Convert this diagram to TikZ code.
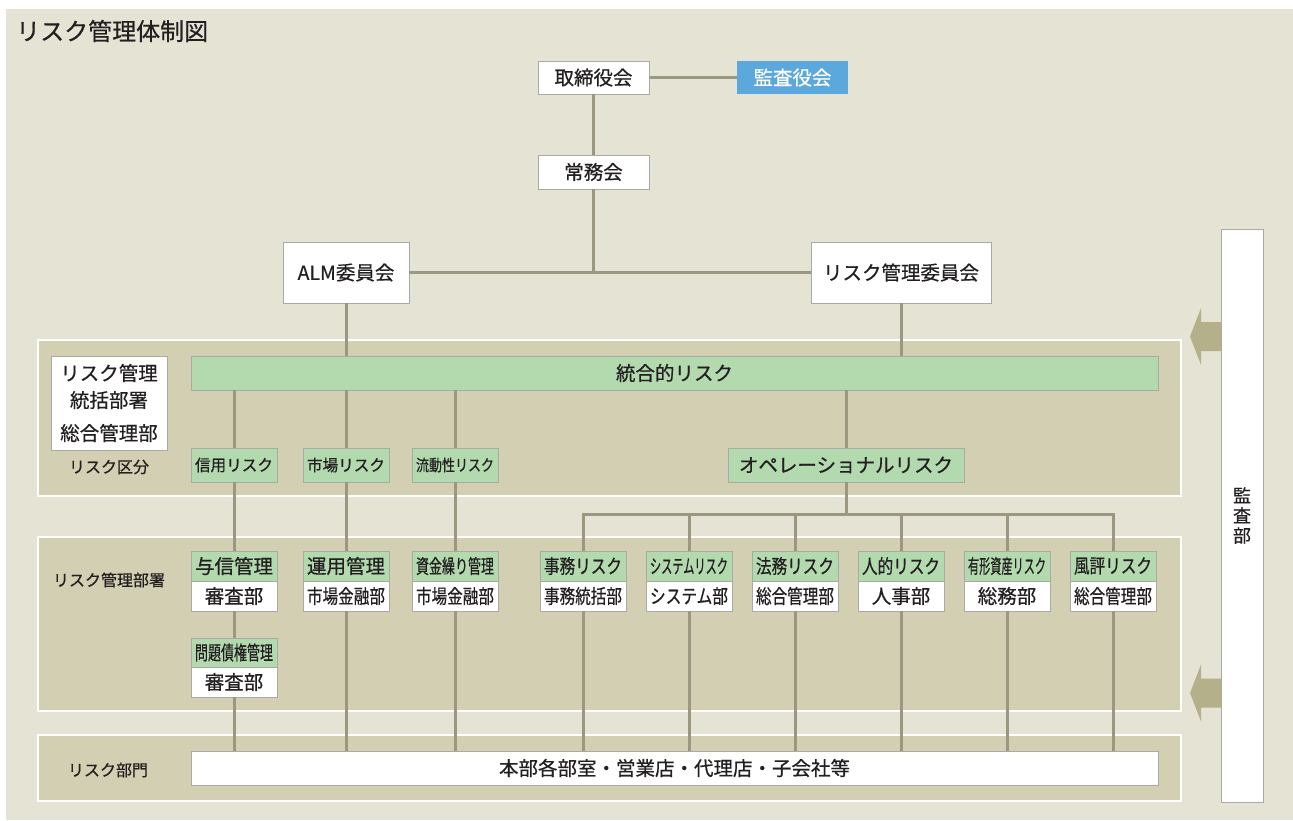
\documentclass[tikz,border=0pt]{standalone}
\usepackage{fontspec}
\setmainfont{Noto Sans CJK JP}[FakeBold=0.6]
\usepackage{graphicx}

\definecolor{bgc}{RGB}{229,227,211}
\definecolor{panc}{RGB}{211,207,178}
\definecolor{linec}{RGB}{155,151,128}
\definecolor{grnc}{RGB}{179,217,175}
\definecolor{boxc}{RGB}{170,170,165}
\definecolor{bluec}{RGB}{91,168,220}
\definecolor{arrc}{RGB}{180,177,138}
\definecolor{txtc}{RGB}{35,31,32}

\newcommand\fsz[1]{\fontsize{#1}{#1}\selectfont}
\newsavebox\fitbx
\newcommand\fitw[2]{\sbox\fitbx{#2}\ifdim\wd\fitbx>#1\relax\resizebox{#1}{\height}{\usebox\fitbx}\else\usebox\fitbx\fi}

\begin{document}
\begin{tikzpicture}[x=1pt,y=-1pt,
	wbox/.style={draw=boxc,fill=white,inner sep=0pt,text=txtc,line width=0.8pt},
	gbox/.style={wbox,fill=grnc},
	conn/.style={draw=linec,line width=3pt},
	panel/.style={fill=panc,draw=white,line width=2pt},
	lbl/.style={text=txtc,inner sep=0pt,font=\fsz{16}},
	big/.style={font=\fsz{19.5}},
	small/.style={font=\fsz{16}}]
	\useasboundingbox (0,0) rectangle (1293,820);
	\fill[bgc] (6,9) rectangle (1293,820);
	\node[anchor=west,text=txtc,inner sep=0pt,font=\fsz{24}] (title) at (16,31) {リスク管理体制図};
	% panels
	\foreach \T/\B in {340/496,537/711,735/801}
	{\draw[panel] (38,\T) rectangle (1181,\B);}
	% top
	\node[wbox,big,minimum width=111,minimum height=33] (torishimari) at (593.5,77.5) {取締役会};
	\node[big,fill=bluec,text=white,inner sep=0pt,minimum width=111,minimum height=33] (kansayaku) at (792.5,77.5) {監査役会};
	\node[wbox,big,minimum width=111,minimum height=34] (jomu) at (593.5,172) {常務会};
	\node[wbox,big,minimum width=126,minimum height=61] (alm) at (346,272.5) {ALM委員会};
	\node[wbox,big,minimum width=180,minimum height=61] (riskiin) at (901,272.5) {リスク管理委員会};
	% left labels
	\node[wbox,minimum width=116,minimum height=94,align=center,font=\fontsize{19.5}{27}\selectfont] (tokatsu) at (109,403) {リスク管理\\統括部署\\[6pt]総合管理部};
	\node[lbl] (kubun) at (109,467) {リスク区分};
	\node[lbl] (bussho) at (109,580) {リスク管理部署};
	\node[lbl] (bumon) at (108,770) {リスク部門};
	% risk categories
	\node[gbox,big,minimum width=967,minimum height=34] (togo) at (674.5,373) {統合的リスク};
	\foreach \X/\T/\N in {234/信用リスク/shinyo,346/市場リスク/shijo,455/流動性リスク/ryudo}
	{\node[gbox,small,minimum width=86,minimum height=34] (\N) at (\X,465) {\fitw{78pt}{\T}};}
	\node[gbox,big,minimum width=236,minimum height=34] (opr) at (846,465) {オペレーショナルリスク};
	% management sections
	\foreach \X/\G/\W/\N in {234/与信管理/審査部/yoshin,346/運用管理/市場金融部/unyo,455/資金繰り管理/市場金融部/shikin}
	{\node[gbox,big,minimum width=86,minimum height=30] (\N) at (\X,566) {\fitw{78pt}{\G}};
	 \node[wbox,big,minimum width=86,minimum height=30] (\N-w) at (\X,596) {\fitw{78pt}{\W}};}
	\node[gbox,big,minimum width=86,minimum height=29] (mondai) at (234,652.5) {\fitw{78pt}{問題債権管理}};
	\node[wbox,big,minimum width=86,minimum height=30] (mondai-w) at (234,682) {審査部};
	\foreach \G/\W [count=\Z] in {事務リスク/事務統括部,システムリスク/システム部,法務リスク/総合管理部,人的リスク/人事部,有形資産リスク/総務部,風評リスク/総合管理部}
	{\pgfmathsetmacro\X{477+106*\Z}
	 \node[gbox,big,minimum width=86,minimum height=30] (op\Z) at (\X,566) {\fitw{78pt}{\G}};
	 \node[wbox,big,minimum width=86,minimum height=30] (op\Z-w) at (\X,596) {\fitw{78pt}{\W}};}
	\node[wbox,big,minimum width=967,minimum height=34] (honbu) at (674.5,768) {本部各部室・営業店・代理店・子会社等};
	\node[wbox,minimum width=42,minimum height=573,align=center,font=\fontsize{18}{20}\selectfont] (kansabu) at (1242,515.5) {監\\査\\部};
	% audit arrows
	\foreach \Y in {336.5,693}
	{\fill[arrc] (1221,\Y-14.5) -- (1201,\Y-14.5) -- (1201,\Y-28.5) -- (1190,\Y) -- (1201,\Y+28.5) -- (1201,\Y+14.5) -- (1221,\Y+14.5) -- cycle;}
	% connectors
	\draw[conn] (torishimari) -- (kansayaku);
	\draw[conn] (torishimari) -- (jomu);
	\draw[conn] (alm) -- (riskiin);
	\draw[conn] (jomu) -- (jomu |- alm);
	\draw[conn] (alm) -- (alm |- togo.north);
	\draw[conn] (riskiin) -- (riskiin |- togo.north);
	\foreach \N in {shinyo,shijo,ryudo,opr}
	{\draw[conn] (togo.south -| \N) -- (\N);}
	\draw[conn] (shinyo) -- (yoshin);
	\draw[conn] (shijo) -- (unyo);
	\draw[conn] (ryudo) -- (shikin);
	\draw[conn] (yoshin-w) -- (mondai);
	\foreach \N in {mondai-w,unyo-w,shikin-w}
	{\draw[conn] (\N) -- (\N |- honbu.north);}
	\coordinate (bra) at (846,514);
	\draw[conn] (opr) -- (bra);
	\draw[conn] (op1.north) |- (bra) -| (op6.north);
	\foreach \Z in {2,...,5}
	{\draw[conn] (op\Z.north |- bra) -- (op\Z);}
	\foreach \Z in {1,...,6}
	{\draw[conn] (op\Z-w) -- (op\Z-w |- honbu.north);}
\end{tikzpicture}
\end{document}
